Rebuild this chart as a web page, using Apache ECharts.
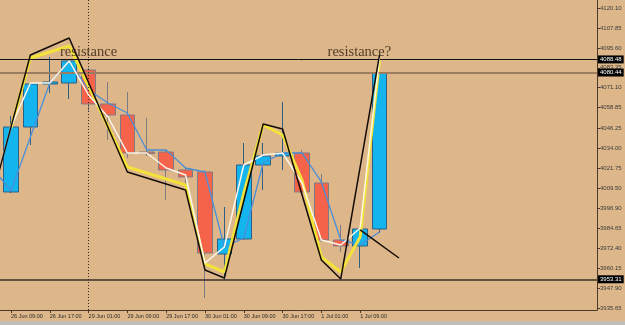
<!DOCTYPE html>
<html>
<head>
<meta charset="utf-8">
<script src="https://cdn.jsdelivr.net/npm/echarts@6/dist/echarts.min.js"></script>
<style>
  html, body { margin: 0; padding: 0; background: #deb887; }
  #main { width: 625px; height: 325px; }
</style>
</head>
<body>
<div id="main"></div>
<script>
// H4 candles, index 0 = 26 Jun 09:00
// [index, open, close, low, high]
var candles = [
  [0, 4006.98, 4046.94, 4006.36, 4053.70],
  [1, 4046.94, 4073.38, 4035.87, 4073.99],
  [2, 4073.38, 4074.61, 4067.84, 4089.98],
  [3, 4073.99, 4087.52, 4064.15, 4088.10],
  [4, 4081.98, 4061.08, 4056.16, 4083.21],
  [5, 4061.08, 4054.32, 4038.95, 4074.61],
  [6, 4054.32, 4030.96, 4027.88, 4068.46],
  [7, 4031.57, 4030.60, 4029.11, 4052.47],
  [8, 4031.57, 4020.50, 4002.06, 4032.80],
  [9, 4020.50, 4016.20, 4011.28, 4021.73],
  [10, 4019.27, 3969.48, 3941.81, 4020.50],
  [11, 3968.86, 3978.08, 3952.88, 3997.76],
  [12, 3978.08, 4023.58, 3977.47, 4037.10],
  [13, 4023.58, 4029.11, 4008.21, 4037.10],
  [14, 4029.11, 4030.96, 4020.50, 4062.31],
  [15, 4030.96, 4006.98, 4005.13, 4032.80],
  [16, 4012.51, 3977.47, 3976.24, 4018.04],
  [17, 3977.47, 3973.78, 3970.09, 3986.69],
  [18, 3973.78, 3984.23, 3960.25, 3984.23],
  [19, 3984.23, 4080.44, 3981.77, 4080.44]
]

var blueLine = [
  [-1, 4022.35], [0, 4007.59], [1, 4040.79], [2, 4073.99], [3, 4087.52],
  [4, 4069.69], [5, 4061.70], [6, 4055.55], [7, 4032.80], [8, 4032.80],
  [9, 4021.73], [10, 4019.27], [11, 3973.16], [12, 3978.70], [13, 4024.81],
  [14, 4030.96], [15, 4030.96], [16, 4013.13], [17, 3977.47], [18, 3974.39],
  [19, 3982.39]
]
var whiteLine = [
  [-1, 4003.90], [0, 4046.94], [1, 4073.99], [2, 4073.99], [3, 4087.52],
  [4, 4066.61], [5, 4053.09], [6, 4030.96], [7, 4030.96], [8, 4021.73],
  [9, 4017.43], [10, 3963.33], [11, 3973.16], [12, 4023.58], [13, 4029.73],
  [14, 4030.96], [15, 4012.51], [16, 3977.47], [17, 3974.39], [18, 3984.85],
  [19, 4089.98]
]
var yellowLine = [
  [0, 4046.33], [1, 4089.36], [3, 4096.74], [6, 4022.35], [9, 4011.28],
  [10, 3962.71], [11, 3957.79], [12, 4006.36], [13, 4048.17], [14, 4042.02],
  [15, 4014.36], [16, 3967.02], [17, 3957.79], [18, 3979.31], [19, 4088.13]
]
var blackLine = [
  [-1, 4002.67], [1, 4091.21], [3, 4101.66], [6, 4019.27], [9, 4008.21],
  [10, 3959.02], [11, 3954.11], [13, 4048.78], [14, 4045.71], [16, 3965.17],
  [17, 3953.49], [19, 4091.21]
]
var blackTrend = [[18, 3983.62], [20, 3966.40]]

var levels = [4088.48, 3953.31]
var lastPrice = 4080.44
var cursorIndex = 4

var annotations = [
  { name: 'resistance', value: [4, 4093.05] },
  { name: 'resistance?', value: [17.96, 4093.05] }
]

var priceTicks = [4120.10, 4107.85, 4095.60, 4083.35, 4071.10, 4058.85, 4046.25,
  4034.00, 4021.75, 4009.50, 3996.90, 3984.65, 3972.40, 3960.15, 3947.90, 3935.65]
var timeTicks = [0, 2, 4, 6, 8, 10, 12, 14, 16, 18]
var timeLabels = ['26 Jun 09:00', '26 Jun 17:00', '29 Jun 01:00', '29 Jun 09:00',
  '29 Jun 17:00', '30 Jun 01:00', '30 Jun 09:00', '30 Jun 17:00', '1 Jul 01:00', '1 Jul 09:00']

var chart = echarts.init(document.getElementById('main'), null, { renderer: 'canvas' })

function lineSeries(data, color, width, z) {
  return {
    type: 'line',
    data: data,
    symbol: 'none',
    silent: true,
    z: z,
    lineStyle: { color: color, width: width }
  }
}

var axisFont = 'Liberation Sans'

chart.setOption({
  animation: false,
  backgroundColor: '#ddb78a',
  grid: { left: 0, top: 0, right: 28, bottom: 15 },
  xAxis: {
    type: 'value',
    min: -0.567,
    max: 30.21,
    splitLine: { show: false },
    axisLine: { onZero: false, lineStyle: { color: '#4a3828', width: 1 } },
    axisTick: { length: 3, customValues: timeTicks, lineStyle: { color: '#4a3828' } },
    axisLabel: {
      customValues: timeTicks,
      formatter: function (v) { return timeLabels[timeTicks.indexOf(Math.round(v))] || '' },
      align: 'left',
      margin: 3,
      fontSize: 5.5,
      fontFamily: axisFont,
      color: '#2a2a2a'
    }
  },
  yAxis: {
    type: 'value',
    position: 'right',
    min: 3934.42,
    max: 4125.02,
    scale: true,
    splitLine: { show: false },
    axisLine: { show: true, onZero: false, lineStyle: { color: '#4a3828', width: 1 } },
    axisTick: { show: true, length: 3, customValues: priceTicks, lineStyle: { color: '#4a3828' } },
    axisLabel: {
      customValues: priceTicks,
      formatter: function (v) { return v.toFixed(2) },
      margin: 3,
      fontSize: 6,
      fontFamily: axisFont,
      color: '#3a3a3a'
    }
  },
  series: [
    {
      type: 'candlestick',
      data: candles,
      barWidth: 15,
      z: 2,
      itemStyle: {
        color: '#14b4ee',
        color0: '#f4634a',
        borderColor: '#2f5f82',
        borderColor0: '#7d7b84',
        borderWidth: 1
      },
      markLine: {
        silent: true,
        symbol: ['none', 'none'],
        animation: false,
        label: {
          position: 'end',
          distance: 1,
          formatter: function (p) { return p.value.toFixed(2) },
          backgroundColor: '#000',
          color: '#fff',
          padding: [1, 2, 1, 2],
          fontSize: 6,
          fontFamily: axisFont
        },
        data: [
          { yAxis: levels[0], lineStyle: { color: '#111', width: 1, type: 'solid' } },
          { yAxis: lastPrice, lineStyle: { color: '#9c7d62', width: 2, type: 'solid' } },
          { yAxis: levels[1], lineStyle: { color: '#3a3028', width: 1.5, type: 'solid' } },
          { xAxis: cursorIndex, label: { show: false }, lineStyle: { color: '#3a2a1a', width: 1, type: [1, 2] } }
        ]
      }
    },
    lineSeries(blueLine, '#4a8fd8', 1.3, 3),
    lineSeries(yellowLine, '#f2e23a', 3, 4),
    lineSeries(whiteLine, '#fbf6ea', 1.5, 5),
    lineSeries(blackLine, '#140c06', 1.5, 6),
    lineSeries(blackTrend, '#140c06', 1.5, 6),
    {
      type: 'scatter',
      data: annotations,
      symbolSize: 0,
      silent: true,
      z: 7,
      label: {
        show: true,
        position: 'inside',
        formatter: '{b}',
        fontFamily: 'Liberation Serif',
        fontSize: 14.5,
        color: '#2a1a0c'
      }
    }
  ],
  graphic: [
    { type: 'rect', left: 0, top: 321, shape: { width: 625, height: 4 }, style: { fill: '#c2beb6' }, silent: true }
  ]
})
</script>
</body>
</html>
